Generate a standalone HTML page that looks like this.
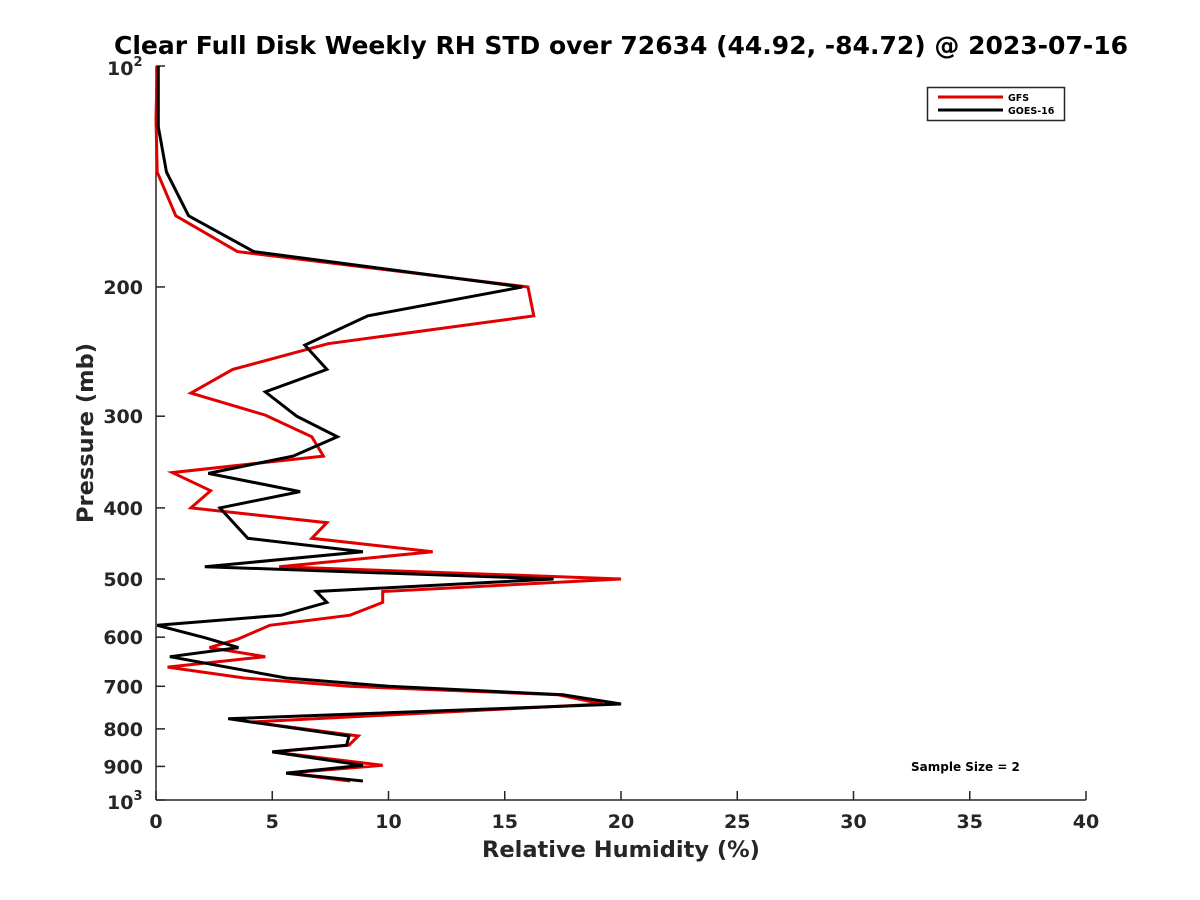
<!DOCTYPE html>
<html><head><meta charset="utf-8"><style>
body{margin:0;background:#fff;}
svg{display:block;font-family:"DejaVu Sans","Liberation Sans",sans-serif;font-weight:bold;}
</style></head><body>
<svg id="chart" width="1200" height="900" viewBox="0 0 1200 900" xmlns="http://www.w3.org/2000/svg">
<rect width="1200" height="900" fill="#fff"/>
<text x="621" y="54" text-anchor="middle" font-size="25" fill="#000">Clear Full Disk Weekly RH STD over 72634 (44.92, -84.72) @ 2023-07-16</text>
<g id="axes"></g>
<g id="series"></g>
<text x="621" y="857" text-anchor="middle" font-size="22.5" fill="#262626">Relative Humidity (%)</text>
<text transform="translate(93,433) rotate(-90)" text-anchor="middle" font-size="22.5" fill="#262626">Pressure (mb)</text>
<text x="911" y="771" font-size="12" fill="#000">Sample Size = 2</text>
<g>
<rect x="927.5" y="87.5" width="137" height="33" fill="#fff" stroke="#262626" stroke-width="1.5"/>
<line x1="938" y1="97" x2="1003" y2="97" stroke="#e00000" stroke-width="3"/>
<text x="1008" y="101" font-size="9.5" fill="#000">GFS</text>
<line x1="938" y1="110" x2="1003" y2="110" stroke="#000" stroke-width="3"/>
<text x="1008" y="114" font-size="9.5" fill="#000">GOES-16</text>
</g>
</svg>
<script>
const gfsPressure=[100,118,139.5,160,179,200,219,239,259,279,299,320,340,358,379,400,419,440,459,481,500,520,538,560,578,604,620,638,659,682,700,719,740,783,818,842,860,897,919,942];
const gfsValues=[0.05,0,0.05,0.85,3.5,16.0,16.25,7.4,3.3,1.5,4.7,6.7,7.2,0.7,2.35,1.5,7.35,6.7,11.9,5.3,20.0,9.75,9.75,8.35,4.9,3.5,2.3,4.7,0.5,3.8,8.3,17.3,19.2,4.1,8.7,8.3,5.0,9.75,5.6,8.35];
const goesPressure=[100,121,139.5,160,179,200,219,240,259,278,300,320,340,359,380,400,440,459,481,500,520,538,560,578,601,620,638,682,700,719,740,775,818,842,860,897,919,942];
const goesValues=[0.1,0.1,0.45,1.4,4.2,15.75,9.1,6.4,7.35,4.7,6.05,7.8,5.9,2.25,6.2,2.75,3.95,8.9,2.1,17.1,6.9,7.35,5.4,0.05,2.1,3.55,0.6,5.6,10.0,17.5,20.0,3.1,8.3,8.2,5.0,8.9,5.6,8.9];
const xTicks=[0,5,10,15,20,25,30,35,40];
const yTicks=[200,300,400,500,600,700,800,900];

const NS="http://www.w3.org/2000/svg";
const X0=156,X1=1086,Y0=66,Y1=800,XMIN=0,XMAX=40,PMIN=100,PMAX=1000;
function xs(v){return X0+(v-XMIN)/(XMAX-XMIN)*(X1-X0);}
function ys(p){return Y0+(Math.log10(p)-Math.log10(PMIN))/(Math.log10(PMAX)-Math.log10(PMIN))*(Y1-Y0);}
function mk(tag,attrs,parent){const e=document.createElementNS(NS,tag);for(const k in attrs)e.setAttribute(k,attrs[k]);parent.appendChild(e);return e;}
const axes=document.getElementById('axes');
const series=document.getElementById('series');
const ax="#262626";
let l=mk('line',{x1:X0,y1:Y0,x2:X0,y2:Y1,stroke:ax,'stroke-width':1.5},axes);


l=mk('line',{x1:X0,y1:Y1,x2:X1,y2:Y1,stroke:ax,'stroke-width':1.5},axes);


xTicks.forEach(v=>{
  const t=mk('line',{x1:xs(v),y1:Y1,x2:xs(v),y2:Y1-9,stroke:ax,'stroke-width':1.5},axes);
  
  
  const tx=mk('text',{x:xs(v),y:Y1+28,'text-anchor':'middle','font-size':19,fill:ax},axes);
  
  
  tx.textContent=v;
});
yTicks.concat([100,1000]).forEach(p=>{
  const t=mk('line',{x1:X0,y1:ys(p),x2:X0+9,y2:ys(p),stroke:ax,'stroke-width':1.5},axes);
  
  
});
yTicks.forEach(p=>{
  const tx=mk('text',{x:143,y:ys(p)+7,'text-anchor':'end','font-size':19,fill:ax},axes);
  
  
  tx.textContent=p;
});
[[100,'2'],[1000,'3']].forEach(([p,e])=>{
  const tx=mk('text',{x:107,y:ys(p)+9,'font-size':19,fill:ax},axes);
  
  
  tx.textContent='10';
  const sp=mk('tspan',{dy:-9,'font-size':13},tx);
  sp.textContent=e;
});
function draw(ps,vs,color,name){
  const pts=ps.map((p,i)=>xs(vs[i]).toFixed(1)+','+ys(p).toFixed(1)).join(' ');
  const pl=mk('polyline',{points:pts,fill:'none',stroke:color,'stroke-width':3,'stroke-linejoin':'miter'},series);
  
  
}
draw(gfsPressure,gfsValues,'#e00000','gfs-line');
draw(goesPressure,goesValues,'#000000','goes16-line');
</script>
</body></html>
